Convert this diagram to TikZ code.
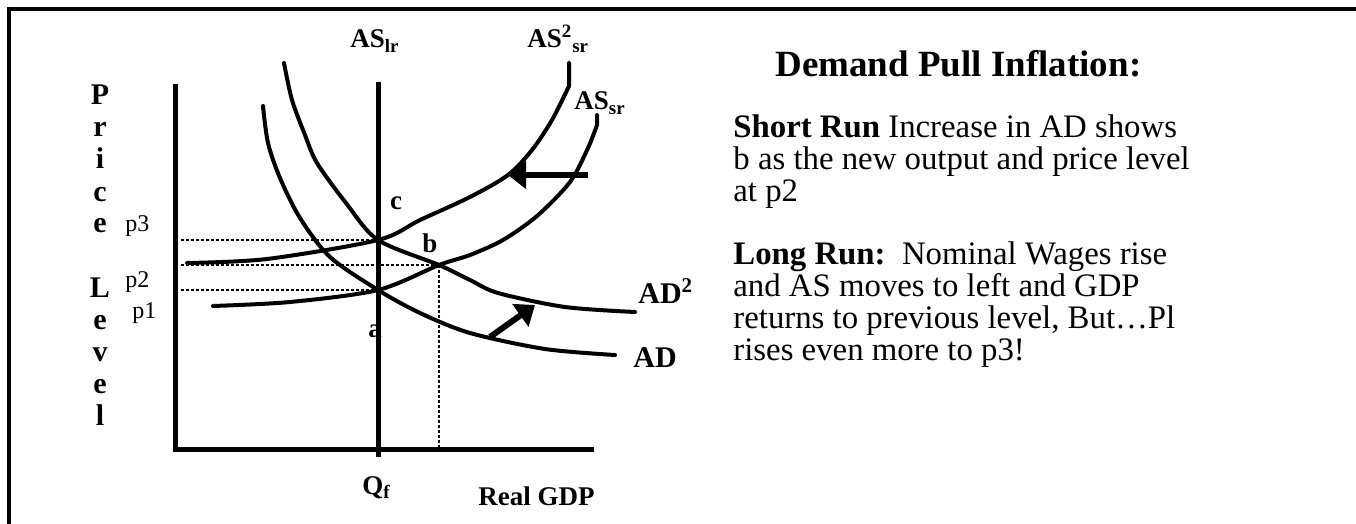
\documentclass[tikz,border=0pt]{standalone}
\usepackage{amsmath,amssymb}
\usepackage{tikz}
\usepackage{xcolor}
\usepackage{fontspec}
\setmainfont{Liberation Serif}
\usetikzlibrary{arrows.meta}

\tikzset{
  econline/.style={line width=2pt, line join=round, line cap=round},
  axisline/.style={line width=2.5pt},
  dotline/.style={line width=1.15pt, dash pattern=on 1.5pt off 1pt},
  shiftarrow/.style={line width=3pt, -{Triangle[length=9pt,width=13.5pt]}},
  boldlbl/.style={font=\fontsize{13.5}{16}\selectfont\bfseries, inner sep=0pt},
  biglbl/.style={font=\fontsize{15}{18}\selectfont\bfseries, inner sep=0pt},
  plbl/.style={font=\fontsize{12}{14}\selectfont, inner sep=0pt},
}

\begin{document}
\begin{tikzpicture}[x=0.5pt,y=-0.5pt]
\useasboundingbox (0,0) rectangle (1356,524);
\draw[line width=1.65pt] (1356,9) -- (9,9) -- (9,524);

\draw[axisline] (175,84) -- (175,451);
\draw[axisline] (173,449) -- (594,449);
\draw[axisline] (378,82) -- (378,457);

\coordinate (a) at (378,290);
\coordinate (b) at (439,265);
\coordinate (c) at (378,240);
\coordinate (p3start) at (181,240);
\coordinate (p2start) at (181,265);
\coordinate (p1start) at (181,290);
\coordinate (bfoot) at (439,447);

\draw[dotline] (p3start) -- (c);
\draw[dotline] (p2start) -- (b);
\draw[dotline] (p1start) -- (a);
\draw[dotline] (b) -- (bfoot);

\draw[econline] plot[smooth, tension=0.5] coordinates {(213,306) (290,302) (378,290) (439,265) (470,255) (503,240) (537,216) (570,182) (588,148) (597,125)} -- (597,115);
\draw[econline] plot[smooth, tension=0.5] coordinates {(187,263) (267,259) (378,240) (420,220) (470,197) (508,175) (532,150) (552,120) (569,86)} -- (569,63);
\draw[econline] plot[smooth, tension=0.5] coordinates {(263,106) (268,143) (280,178) (300,218) (330,257) (378,290) (420,313) (470,333) (545,349) (615,355)};
\draw[econline] plot[smooth, tension=0.5] coordinates {(284,63) (292,100) (305,135) (317,163) (346,203) (378,240) (439,265) (470,280) (498,293) (565,307) (635,312)};

\coordinate (asfrom) at (588,175);
\coordinate (asto) at (508,175);
\coordinate (adfrom) at (490,337);
\coordinate (adto) at (535,305);
\draw[shiftarrow] (asfrom) -- (asto);
\draw[shiftarrow] (adfrom) -- (adto);

\node[boldlbl, anchor=base west] (aslr) at (350,48) {AS\textsubscript{lr}};
\node[boldlbl, anchor=base west] (as2sr) at (527,48) {AS\textsuperscript{2}\textsubscript{sr}};
\node[boldlbl, anchor=base west] (assr) at (574,110) {AS\textsubscript{sr}};
\node[boldlbl, anchor=base] (clbl) at (396,210) {c};
\node[boldlbl, anchor=base] (blbl) at (430,252) {b};
\node[boldlbl, anchor=base] (albl) at (375,337) {a};
\node[biglbl, anchor=base west] (ad2) at (638,303) {AD\textsuperscript{2}};
\node[biglbl, anchor=base west] (ad) at (633,367) {AD};
\node[boldlbl, anchor=base west] (qf) at (362,494) {Q\textsubscript{f}};
\node[boldlbl, anchor=base west] (gdp) at (478,505) {Real GDP};
\node[plbl, anchor=base west] (p3) at (125,232) {p3};
\node[plbl, anchor=base west] (p2) at (125,287) {p2};
\node[plbl, anchor=base west] (p1) at (132,318) {p1};

\foreach \ch/\i in {P/0,r/1,i/2,c/3,e/4,L/6,e/7,v/8,e/9,l/10}
  \node[biglbl, anchor=base] (pl\i) at (100,105+32*\i) {\ch};

\node[font=\fontsize{18.5}{22}\selectfont\bfseries, inner sep=0pt, anchor=base west] (title) at (775,77) {Demand Pull Inflation:};
\node[font=\fontsize{16.4}{15.9}\selectfont, inner sep=0pt, align=left, anchor=base west] (story) at (733,360)
  {\textbf{Short Run} Increase in AD shows\\
   b as the new output and price level\\
   at p2\\[15.9pt]
   \textbf{Long Run:}\ \ Nominal Wages rise\\
   and AS moves to left and GDP\\
   returns to previous level, But…Pl\\
   rises even more to p3!};
\end{tikzpicture}
\end{document}
